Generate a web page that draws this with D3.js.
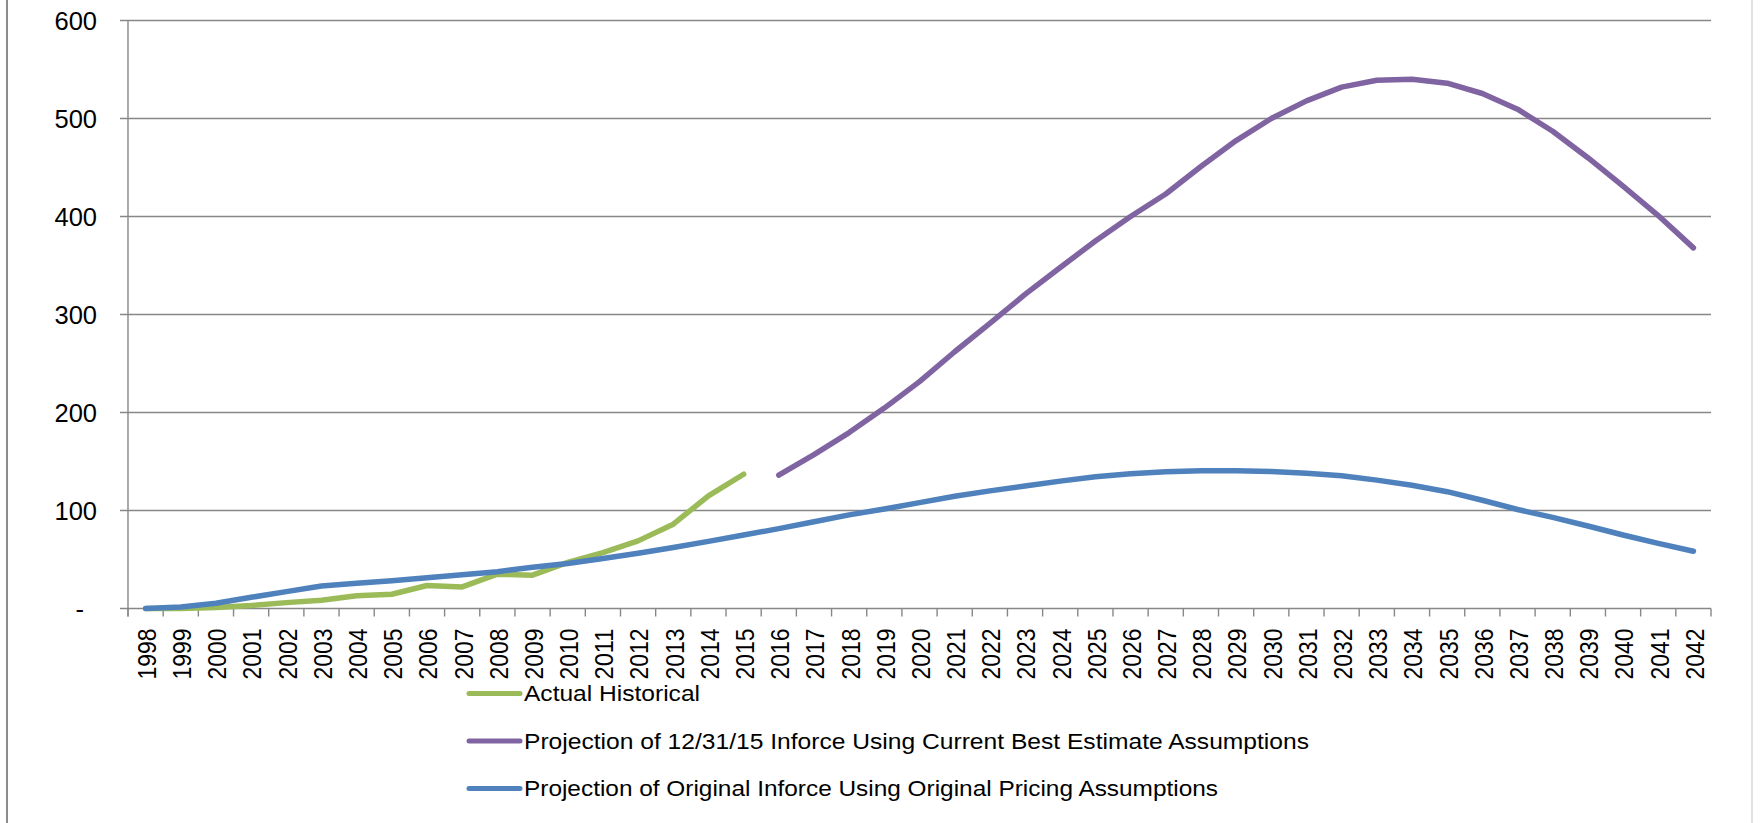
<!DOCTYPE html>
<html>

<head>
    <title>inforce projection</title>
    <script src="https://cdn.jsdelivr.net/npm/d3@7"></script>
    <style>
        body { margin: 0; background: #fff; }
        text { font-family: "Liberation Sans", Arial, sans-serif; fill: #000; }
    </style>
</head>

<body>

    <script>
        // categories: one per year
        var years = d3.range(1998, 2043).map(String);

        // y axis tick values and their labels
        var yTicks = [0, 100, 200, 300, 400, 500, 600];
        var yTickLabels = ['-', '100', '200', '300', '400', '500', '600'];

        // series values (null = no point)
        var actualHistorical = [0, 0, 1, 3, 6, 8.5, 13, 14.5, 23.5, 22, 35, 34, 47, 57, 69, 86, 115, 137];

        var bestEstimate = [
            null, null, null, null, null, null, null, null, null, null,
            null, null, null, null, null, null, null, null,
            136, 157, 179.5, 204.5, 231.5, 262, 291, 320.5, 348, 375, 400, 423, 451,
            477.5, 500, 518, 532, 539, 540, 536, 525.5, 509.5, 487, 460, 431, 401, 368
        ];

        var originalPricing = [
            0, 1.5, 5.3, 11.4, 17.2, 23, 25.7, 28.4, 31.4, 34.5, 37.6, 42, 46, 51, 56.3,
            62.2, 68.5, 75, 81.5, 88.5, 95.5, 101.5, 108, 114.5, 120, 125, 130, 134.5,
            137.5, 139.5, 140.5, 140.5, 139.8, 138, 135.5, 131, 125.7, 119.2, 110.5,
            101, 93, 84.2, 75, 66.5, 58.4
        ];

        var seriesNames = [
            'Actual Historical',
            'Projection of 12/31/15 Inforce Using Current Best Estimate Assumptions',
            'Projection of Original Inforce Using Original Pricing Assumptions'
        ];
        var seriesValues = [actualHistorical, bestEstimate, originalPricing];
        var seriesColors = ['#9bbb59', '#8064a2', '#4f81bd'];

        var width = 1761,
            height = 823;

        // plot box (window.top is read-only, hence the prefixed names)
        var plotLeft = 128, plotRight = 1711, plotTop = 20.5, plotBottom = 608.5;
        var grid = '#878787';

        var svg = d3.select('body')
            .append('svg')
            .attr('width', width)
            .attr('height', height);

        // outer chart frame
        svg.append('line')
            .attr('x1', 7).attr('x2', 7).attr('y1', 0).attr('y2', height)
            .attr('stroke', '#8c8c8c').attr('stroke-width', 2);
        svg.append('line')
            .attr('x1', 1752).attr('x2', 1752).attr('y1', 0).attr('y2', height)
            .attr('stroke', '#d9d9d9').attr('stroke-width', 1.5);

        var x = d3.scaleBand()
            .domain(years)
            .range([plotLeft, plotRight]);

        var y = d3.scaleLinear()
            .domain([0, 600])
            .range([plotBottom, plotTop]);

        // gridlines (they also poke out 8px left of the axis)
        svg.append('g')
            .selectAll('line')
            .data(yTicks)
            .join('line')
            .attr('x1', plotLeft - 8)
            .attr('x2', plotRight)
            .attr('y1', function (d) { return y(d); })
            .attr('y2', function (d) { return y(d); })
            .attr('stroke', grid)
            .attr('stroke-width', 1.4);

        // y axis line
        svg.append('line')
            .attr('x1', plotLeft).attr('x2', plotLeft)
            .attr('y1', plotTop).attr('y2', plotBottom + 8)
            .attr('stroke', grid).attr('stroke-width', 1.4);

        // y labels
        svg.append('g')
            .selectAll('text')
            .data(yTicks)
            .join('text')
            .attr('x', function (d, i) { return yTickLabels[i] === '-' ? 84 : 97; })
            .attr('y', function (d) { return y(d); })
            .attr('dy', '0.36em')
            .attr('text-anchor', 'end')
            .style('font-size', '25.5px')
            .text(function (d, i) { return yTickLabels[i]; });

        // x axis: ticks sit between the categories
        var bounds = years.map(function (d) { return x(d); }).concat([plotRight]);
        svg.append('g')
            .selectAll('line')
            .data(bounds)
            .join('line')
            .attr('x1', function (d) { return d; })
            .attr('x2', function (d) { return d; })
            .attr('y1', plotBottom)
            .attr('y2', plotBottom + 8)
            .attr('stroke', grid)
            .attr('stroke-width', 1.4);

        svg.append('g')
            .selectAll('text')
            .data(years)
            .join('text')
            .attr('transform', function (d) {
                return 'translate(' + (x(d) + x.bandwidth() / 2 + 1) + ',' + (plotBottom + 20) + ') rotate(-90)';
            })
            .attr('text-anchor', 'end')
            .attr('dy', '0.36em')
            .attr('textLength', 51)
            .attr('lengthAdjust', 'spacingAndGlyphs')
            .style('font-size', '26px')
            .text(function (d) { return d; });

        // the lines, blue drawn last so it sits on top
        var line = d3.line()
            .defined(function (d) { return d != null; })
            .x(function (d, i) { return x(years[i]) + x.bandwidth() / 2; })
            .y(function (d) { return y(d); });

        seriesValues.forEach(function (vals, k) {
            svg.append('path')
                .datum(vals)
                .attr('d', line)
                .attr('fill', 'none')
                .attr('stroke', seriesColors[k])
                .attr('stroke-width', 5.5)
                .attr('stroke-linejoin', 'round')
                .attr('stroke-linecap', 'round');
        });

        // legend, stacked under the axis
        var legendWidths = [176, 785, 694];
        var legend = svg.append('g')
            .selectAll('g')
            .data(seriesNames)
            .join('g')
            .attr('transform', function (d, i) { return 'translate(0,' + (693.5 + i * 47.5) + ')'; });

        legend.append('line')
            .attr('x1', 469).attr('x2', 520)
            .attr('stroke', function (d, i) { return seriesColors[i]; })
            .attr('stroke-width', 5)
            .attr('stroke-linecap', 'round');

        legend.append('text')
            .attr('x', 524)
            .attr('y', 7.5)
            .attr('textLength', function (d, i) { return legendWidths[i]; })
            .attr('lengthAdjust', 'spacingAndGlyphs')
            .style('font-size', '22px')
            .text(function (d) { return d; });
    </script>

</body>

</html>
